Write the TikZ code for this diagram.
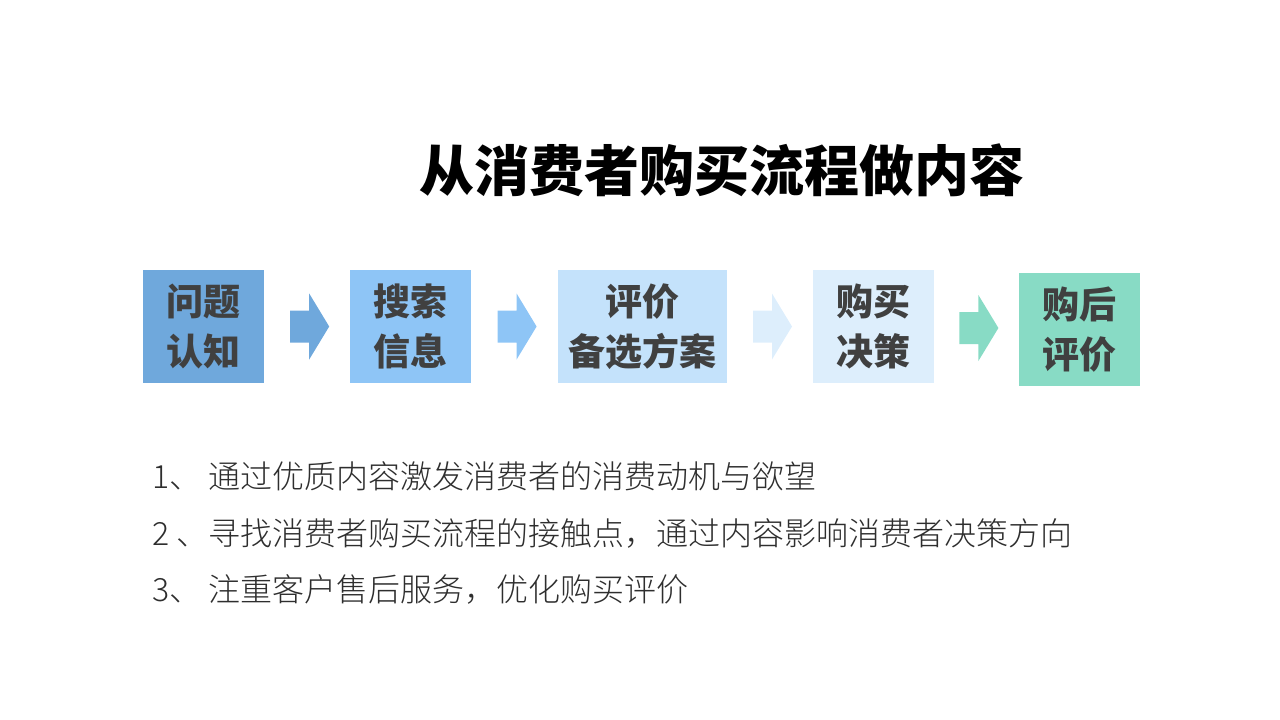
\documentclass[tikz,border=0pt]{standalone}
\usepackage{fontspec}
\usetikzlibrary{positioning,calc}
\newfontfamily\cjkheavy{Noto Sans CJK SC Black}
\newfontfamily\cjklight{Noto Sans CJK SC Light}
\definecolor{stepA}{HTML}{6FA8DC}
\definecolor{stepB}{HTML}{8EC5F6}
\definecolor{stepC}{HTML}{C4E2FB}
\definecolor{stepD}{HTML}{DDEEFC}
\definecolor{stepE}{HTML}{88DBC5}
\definecolor{txtgray}{HTML}{404040}
\definecolor{listgray}{HTML}{2E2E2E}
\begin{document}
\begin{tikzpicture}[x=1pt, y=1pt, node distance=86pt,
  stage/.style={rectangle, minimum width=121pt, minimum height=113pt, inner sep=0pt,
    align=center, text=txtgray, font=\cjkheavy\fontsize{37}{50}\selectfont},
  point/.style={anchor=west, inner sep=0pt, text=listgray, font=\cjklight\fontsize{32}{36}\selectfont}]
\useasboundingbox (0,0) rectangle (1280,-720);
\node[font=\cjkheavy\fontsize{55}{60}\selectfont, text=black] (T) at (722,-170) {从消费者购买流程做内容};
\node[stage, fill=stepA] (A) at (203.5,-326.5) {问题\\认知};
\node[stage, fill=stepB] (B) [right=of A] {搜索\\信息};
\node[stage, fill=stepC, minimum width=169pt] (C) [right=of B] {评价\\备选方案};
\node[stage, fill=stepD] (D) [right=of C] {购买\\决策};
\node[stage, fill=stepE] (E) [right=of D, xshift=-2pt, yshift=-3pt] {购后\\评价};
% block arrows between the stages
\foreach \a/\b/\c in {A/B/stepA, B/C/stepB, C/D/stepD, D/E/stepE}
  \fill[\c] ($(\a.east)!.5!(\b.west)$) ++(-17,-16) -- ++(19,0) -- ++(0,-17)
    -- ++(20,33) -- ++(-20,33) -- ++(0,-17) -- ++(-19,0) -- cycle;
\node[point] (L1) at (152,-476) {1、 通过优质内容激发消费者的消费动机与欲望};
\node[point] (L2) at (152,-533) {2 、寻找消费者购买流程的接触点，通过内容影响消费者决策方向};
\node[point] (L3) at (152,-589) {3、 注重客户售后服务，优化购买评价};
\end{tikzpicture}
\end{document}
